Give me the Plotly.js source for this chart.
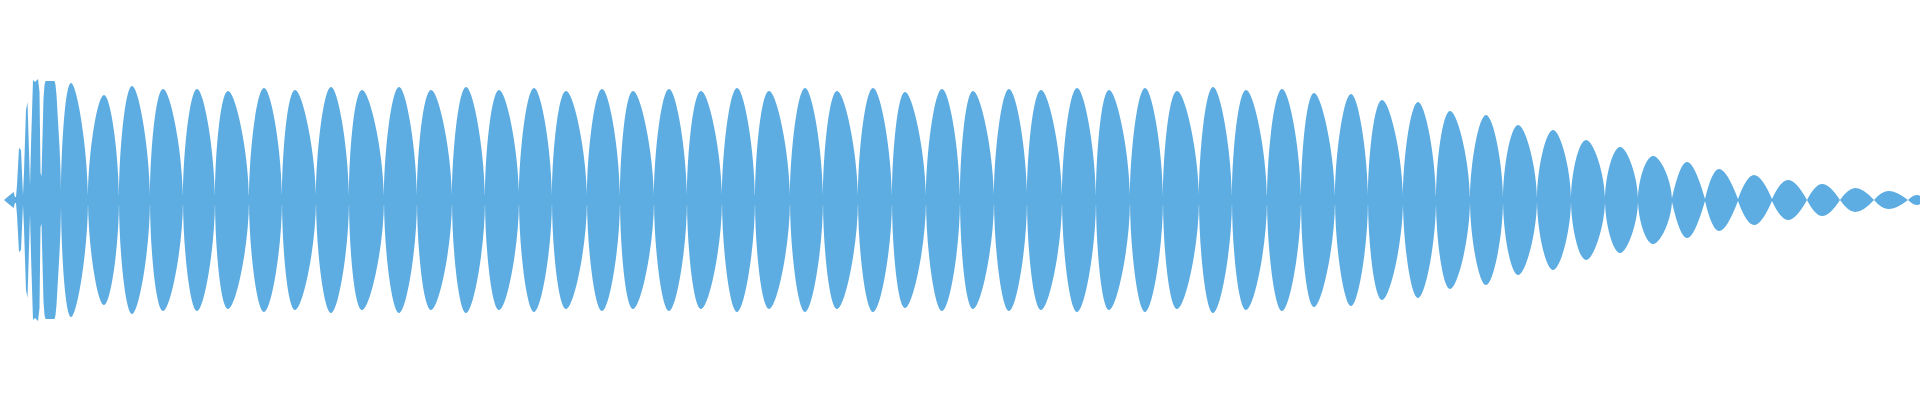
<!DOCTYPE html>
<html>
<head>
<meta charset="utf-8">
<script src="https://cdn.plot.ly/plotly-3.0.1.min.js"></script>
<style>
  html, body { margin: 0; padding: 0; background: #ffffff; }
  #chart { width: 1920px; height: 400px; }
</style>
</head>
<body>
<div id="chart"></div>
<script>
// ---- Data (time position, envelope amplitude) ----
// Irregular onset (attack) samples
var headT   = [4, 8, 12, 13.5, 15, 16, 17, 18, 19, 21, 22, 23, 24, 25, 26, 27.5, 29, 30, 31, 32,
               33, 35, 38, 39.5, 40.5, 41.5, 42.5, 43.5, 44.5, 45.5, 54.5, 55.5, 56.5, 57.5, 58.5, 59.5, 60.5, 61];
var headAmp = [0, 3, 6, 8, 3, 3, 15, 35, 52, 50, 28, 5, 28, 62, 90, 98, 53, 15, 55, 99,
               120, 118, 121, 108, 27, 24, 67, 102, 115, 119, 119, 115, 105, 90, 75, 53, 30, 8];

// Pulse boundaries (envelope minima) and the residual floor amplitude there
var valleyT = [61, 88, 119, 150, 183, 215, 249, 282, 316, 349,
               384, 417, 452, 485, 519, 552, 587, 620, 654, 687,
               722, 755, 790, 823, 858, 892, 926, 960, 994, 1027,
               1062, 1096, 1130, 1163, 1199, 1232, 1267, 1301, 1335, 1368,
               1403, 1436, 1470, 1503, 1537, 1571, 1605, 1638, 1672, 1705,
               1738, 1772, 1807, 1840, 1874, 1908, 1926];
var valleyAmp = [8, 5, 5, 5, 5, 5, 5, 5, 5, 5,
                 5, 5, 5, 5, 5, 5, 5, 5, 5, 5,
                 5, 5, 5, 5, 5, 5, 5, 5, 5, 5,
                 5, 5, 5, 5, 5, 5, 5, 5, 5, 5,
                 5, 5, 4, 4, 3, 3, 3, 2, 2, 1,
                 1, 1, 0, 0, 0, 0, 0];

// Pulse peaks (envelope maxima)
var peakT = [71, 104, 132, 163, 197, 228, 264, 295, 331, 362,
             399, 431, 466, 499, 534, 566, 602, 633, 669, 701,
             737, 769, 805, 837, 873, 905, 942, 973, 1009, 1041,
             1077, 1109, 1145, 1177, 1213, 1246, 1282, 1314, 1351, 1382,
             1418, 1450, 1486, 1518, 1553, 1586, 1620, 1653, 1687, 1719,
             1754, 1788, 1822, 1855, 1888, 1917];
var peakAmp = [117, 105, 114, 111, 111, 109, 112, 110, 113, 110,
               113, 110, 113, 110, 112, 109, 111, 109, 111, 109,
               112, 109, 112, 109, 112, 108, 111, 109, 111, 110,
               112, 110, 112, 109, 113, 110, 111, 107, 106, 100,
               98, 89, 85, 75, 70, 60, 53, 44, 38, 31,
               25, 20, 16, 12, 9, 5];

var COLOR = '#5DADE2';
var SMALL = 40; // faint pulses keep pointed (lens-like) ends

// Large pulses: closed smooth outlines; small pulses: open smooth arcs to zero
var bigX = [], bigY = [], smX = [], smUp = [], smLo = [];
for (var i = 0; i < peakT.length; i++) {
  var v0 = valleyT[i], v1 = valleyT[i + 1], p = peakT[i], a = peakAmp[i];
  if (a >= SMALL) {
    bigX.push(v0, p, v1, p, v0, null);
    bigY.push(0, a, 0, -a, 0, null);
  } else {
    smX.push(v0, p, v1, null);
    smUp.push(valleyAmp[i], a, valleyAmp[i + 1], null);
    smLo.push(-valleyAmp[i], -a, -valleyAmp[i + 1], null);
  }
}
var headLo = headAmp.map(function (v) { return -v; });
var floorLo = valleyAmp.map(function (v) { return -v; });

function trace(x, y, shape, fill) {
  return {
    type: 'scatter', mode: 'lines', x: x, y: y,
    fill: fill, fillcolor: COLOR,
    line: { color: COLOR, width: 0, shape: shape, smoothing: 1.3 },
    connectgaps: false, hoverinfo: 'skip', showlegend: false
  };
}

var data = [
  trace(headT, headAmp, 'linear', 'tozeroy'),
  trace(headT, headLo, 'linear', 'tozeroy'),
  trace(valleyT, valleyAmp, 'linear', 'tozeroy'),
  trace(valleyT, floorLo, 'linear', 'tozeroy'),
  trace(bigX, bigY, 'spline', 'toself'),
  trace(smX, smUp, 'spline', 'tozeroy'),
  trace(smX, smLo, 'spline', 'tozeroy')
];

var layout = {
  width: 1920, height: 400,
  margin: { l: 0, r: 0, t: 0, b: 0, pad: 0 },
  paper_bgcolor: '#ffffff', plot_bgcolor: '#ffffff',
  showlegend: false,
  xaxis: { range: [0, 1920], visible: false, fixedrange: true },
  yaxis: { range: [-200, 200], visible: false, fixedrange: true },
  hovermode: false
};

Plotly.newPlot('chart', data, layout, { staticPlot: true, displayModeBar: false });
</script>
</body>
</html>
